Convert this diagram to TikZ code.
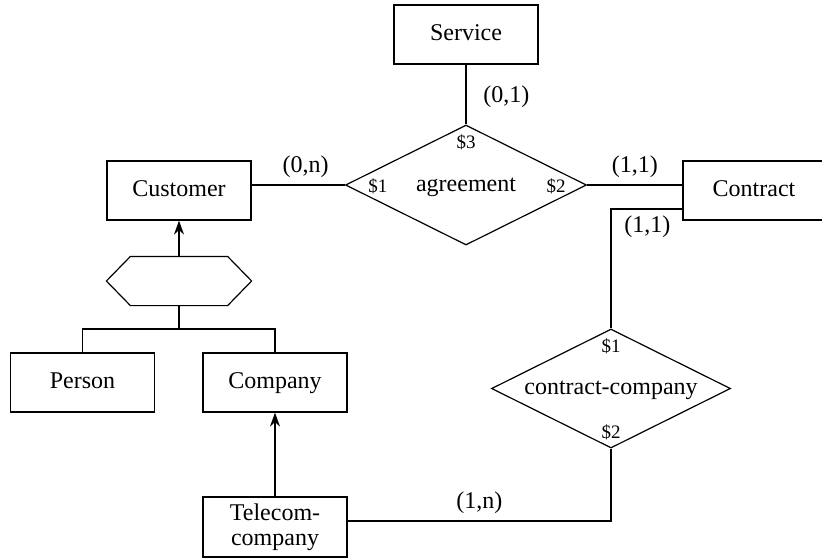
\documentclass[tikz,border=0pt]{standalone}
\usepackage{fontspec}
\setmainfont{Liberation Serif}
\usetikzlibrary{shapes.geometric,arrows.meta}
\begin{document}
\begin{tikzpicture}[x=0.5pt,y=-0.5pt,line width=0.6pt,
    entity/.style={draw,minimum width=72pt,minimum height=29.5pt,inner sep=2pt,align=center,text height=8.5pt,text depth=2.5pt,font=\fontsize{12}{12.5}\selectfont},
    relship/.style={draw,diamond,aspect=2,inner sep=0pt,text height=8.5pt,text depth=2.5pt,font=\fontsize{12}{13}\selectfont},
    role/.style={inner sep=0pt,font=\fontsize{9.5}{11}\selectfont},
    card/.style={font=\fontsize{12}{13}\selectfont}]
    \useasboundingbox (0,0) rectangle (822,559);
    \node [entity] (service) at (466,34.5) {Service};
    \node [entity] (customer) at (179,190.5) {Customer};
    \node [entity,minimum width=71pt] (contract) at (754,190.5) {Contract};
    \node [entity] (person) at (82.5,382.5) {Person};
    \node [entity] (company) at (275,382.5) {Company};
    \node [entity,minimum height=30pt,text height=,text depth=] (telecom) at (275,527) {Telecom-\\company};
    \node [relship,minimum width=120.5pt,minimum height=60pt] (agreement) at (466,185) {agreement};
    \node [relship,minimum width=119.5pt,minimum height=59.5pt] (cc) at (611,388.5) {contract-company};
    \node [minimum width=72pt,minimum height=24pt,inner sep=0pt] (isa) at (179,281) {};
    \coordinate (split) at (179,329);
    % isa hexagon
    \draw (isa.west) -- ([xshift=12pt]isa.north west) -- ([xshift=-12pt]isa.north east)
      -- (isa.east) -- ([xshift=-12pt]isa.south east) -- ([xshift=12pt]isa.south west) -- cycle;
    % roles
    \node [role] (ag1) at ([xshift=16.5pt,yshift=-0.5pt]agreement.west) {\$1};
    \node [role] (ag2) at ([xshift=-15.5pt,yshift=-0.5pt]agreement.east) {\$2};
    \node [role] (ag3) at ([yshift=-9pt]agreement.north) {\$3};
    \node [role] (cc1) at ([yshift=-9pt]cc.north) {\$1};
    \node [role] (cc2) at ([yshift=8pt]cc.south) {\$2};
    % connections
    \draw (service) -- (agreement) node [card,pos=0.54,anchor=west,xshift=5pt] (c01) {(0,1)};
    \draw (agreement.west -| customer.east) -- (agreement.west) node [card,pos=0.58,above] (c0n) {(0,n)};
    \draw (agreement.east) -- (agreement.east -| contract.west) node [card,pos=0.5,above] (c11a) {(1,1)};
    \draw ([yshift=-9.25pt]contract.west) -| (cc.north) node [card,pos=0.5,below right,xshift=3pt] (c11b) {(1,1)};
    \draw (cc.south) |- ([yshift=3pt]telecom.east) node [card,pos=0.75,above] (c1n) {(1,n)};
    \draw [->,>={Stealth[length=7pt,width=5pt]}] (isa.north) -- (customer.south);
    \draw [->,>={Stealth[length=7pt,width=5pt]}] (telecom.north) -- (company.south);
    \draw (isa.south) -- (split);
    \draw (person.north) |- (split) -| (company.north);
\end{tikzpicture}
\end{document}
